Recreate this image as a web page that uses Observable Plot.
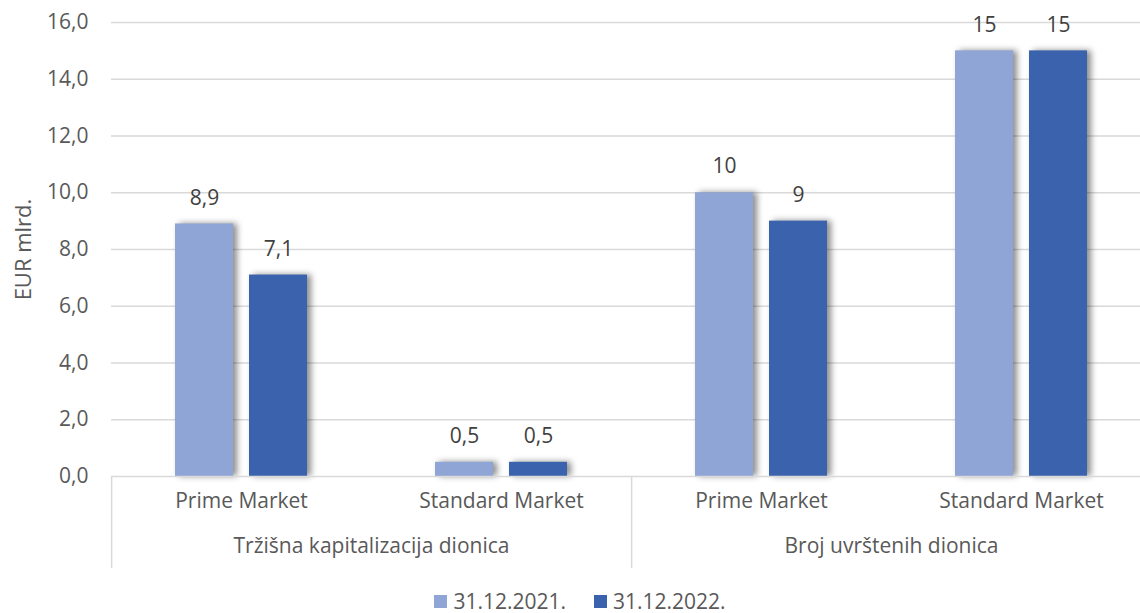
<!DOCTYPE html>
<html><head><meta charset="utf-8">
<script src="https://cdn.jsdelivr.net/npm/d3@7"></script>
<script src="https://cdn.jsdelivr.net/npm/@observablehq/plot@0.6"></script>
<style>
html,body{margin:0;padding:0;background:#fff;overflow:hidden;}
#legend{display:flex;justify-content:center;align-items:center;font-family:"Open Sans",sans-serif;font-size:21px;line-height:23px;color:#595959;height:23px;padding-left:20px;}
#legend .item{display:flex;align-items:center;margin:0 14px;}
#legend .sw{width:13px;height:13px;margin-right:6px;}
</style></head><body><div id="chart"></div><div id="legend"></div>
<script>
const groups = ["Tržišna kapitalizacija dionica", "Broj uvrštenih dionica"];
const markets = ["Prime Market", "Standard Market"];
const series = ["31.12.2021.", "31.12.2022."];
const values2021 = [8.9, 0.5, 10, 15];
const values2022 = [7.1, 0.5, 9, 15];
const yTicks = [0, 2, 4, 6, 8, 10, 12, 14, 16];
const colors = ["#8FA5D5", "#3B63AD"];

const cats = groups.flatMap((g, gi) => markets.map((m, mi) => ({group: g, gi, market: m, mi, key: g + "|" + m})));
const rows = cats.flatMap((c, i) => [
  {...c, series: series[0], value: values2021[i]},
  {...c, series: series[1], value: values2022[i]}
]);
const fmt = d => d.gi === 0 ? d.value.toFixed(1).replace(".", ",") : String(d.value);
const firstOfGroup = cats.filter(c => c.mi === 0);

const width = 1140, marginLeft = 110, marginRight = -11;
const pi = 0.215, po = 0.854;
const fw = (width - marginLeft - marginRight) / cats.length;
const step = fw / (series.length - pi + 2 * po);
const sepDx = -(po * step + step * (1 - pi) / 2);

const chart = Plot.plot({
  width, height: 590,
  marginLeft, marginRight, marginTop: 22, marginBottom: 114,
  style: {fontFamily: "'Open Sans', sans-serif", fontSize: "21px", color: "#595959", background: "#fff", overflow: "hidden"},
  fx: {domain: cats.map(c => c.key), padding: 0, axis: null, label: null},
  x: {domain: series, paddingInner: pi, paddingOuter: po, axis: null, label: null},
  y: {domain: [0, 16], ticks: yTicks, tickFormat: d => d.toFixed(1).replace(".", ","), tickSize: 0, tickPadding: 23, label: null},
  color: {domain: series, range: colors},
  marks: [
    Plot.ruleY(yTicks.filter(d => d > 0), {stroke: "#d9d9d9", strokeWidth: 1.3}),
    Plot.barY(rows, {fx: "key", x: "series", y: "value", fill: "series"}),
    Plot.ruleY([0], {stroke: "#d9d9d9", strokeWidth: 1.5}),
    Plot.text(rows, {fx: "key", x: "series", y: "value", text: fmt, dy: -26, fill: "#404040"}),
    Plot.text(cats, {fx: "key", text: "market", frameAnchor: "bottom", dy: 31, fill: "#595959"}),
    Plot.text(firstOfGroup, {fx: "key", text: "group", frameAnchor: "bottom-right", textAnchor: "middle", dy: 76, fill: "#595959"}),
    Plot.ruleX(firstOfGroup, {fx: "key", x: () => series[0], dx: sepDx, insetTop: 454, insetBottom: -92, stroke: "#d9d9d9", strokeWidth: 1.5}),
    Plot.text(["EUR mlrd."], {fx: () => cats[0].key, text: d => d, frameAnchor: "left", textAnchor: "middle", lineAnchor: "middle", rotate: -90, dx: -88, fontSize: 22, fill: "#595959"})
  ]
});
d3.select(chart).selectAll("g[aria-label='bar'] rect").style("filter", "drop-shadow(4px 0px 3px rgba(0,0,0,0.45))");
document.getElementById("chart").appendChild(chart);

const legend = d3.select("#legend");
series.forEach((s, i) => {
  const it = legend.append("div").attr("class", "item");
  it.append("div").attr("class", "sw").style("background", colors[i]);
  it.append("span").text(s);
});
</script></body></html>
